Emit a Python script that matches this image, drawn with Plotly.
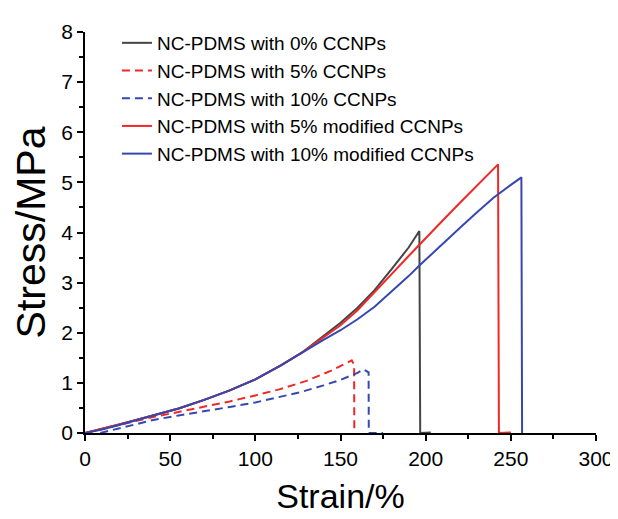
import plotly.graph_objects as go

# ---- data ----
names = ["NC-PDMS with 0% CCNPs", "NC-PDMS with 5% CCNPs", "NC-PDMS with 10% CCNPs",
         "NC-PDMS with 5% modified CCNPs", "NC-PDMS with 10% modified CCNPs"]

strain_0 = [0, 10, 20, 30, 40, 55, 70, 85, 100, 115, 128, 140, 150, 160, 170, 180, 190, 196.3, 196.8, 203]
stress_0 = [0, 0.08, 0.17, 0.26, 0.35, 0.49, 0.66, 0.85, 1.07, 1.35, 1.62, 1.93, 2.2, 2.5, 2.85, 3.27, 3.7, 4.03, 0, 0.01]

strain_5 = [0, 10, 20, 30, 40, 55, 70, 85, 100, 114, 130, 145, 156.6, 158, 158.1]
stress_5 = [0, 0.08, 0.17, 0.25, 0.32, 0.42, 0.52, 0.63, 0.75, 0.87, 1.04, 1.25, 1.45, 1.36, 0]

strain_10 = [9, 15, 25, 40, 55, 70, 85, 100, 114, 126, 140, 150, 160, 163.5, 166.5, 166.6, 171, 175]
stress_10 = [0, 0.05, 0.14, 0.26, 0.35, 0.43, 0.52, 0.61, 0.71, 0.81, 0.95, 1.06, 1.2, 1.27, 1.21, 0, 0, 0]

strain_5m = [0, 10, 20, 30, 40, 55, 70, 85, 100, 115, 128, 140, 150, 160, 170, 180, 190, 196.3, 210, 220, 230, 242.5, 243, 250]
stress_5m = [0, 0.08, 0.17, 0.26, 0.35, 0.49, 0.66, 0.85, 1.07, 1.35, 1.62, 1.9, 2.15, 2.45, 2.8, 3.17, 3.53, 3.76, 4.24, 4.59, 4.93, 5.36, 0, 0.01]

strain_10m = [0, 10, 20, 30, 40, 55, 70, 85, 100, 115, 128, 140, 150, 160, 170, 180, 190, 196, 210, 220, 230, 240, 250, 256.2, 256.6]
stress_10m = [0, 0.07, 0.16, 0.26, 0.35, 0.49, 0.66, 0.85, 1.07, 1.35, 1.62, 1.86, 2.05, 2.27, 2.52, 2.82, 3.13, 3.33, 3.78, 4.09, 4.4, 4.7, 4.95, 5.1, 0]

x_ticks = [0, 50, 100, 150, 200, 250, 300]
y_ticks = [0, 1, 2, 3, 4, 5, 6, 7, 8]

BLACK = "#444444"
RED = "#f02828"
BLUE = "#3548b0"
FONT = "Liberation Sans, Arial"

fig = go.Figure()
series = [
    (strain_0, stress_0, BLACK, "solid"),
    (strain_5, stress_5, RED, "8px,5px"),
    (strain_10, stress_10, BLUE, "8px,5px"),
    (strain_5m, stress_5m, RED, "solid"),
    (strain_10m, stress_10m, BLUE, "solid"),
]
for name, (x, y, c, d) in zip(names, series):
    fig.add_trace(go.Scatter(x=x, y=y, mode="lines", name=name,
                             line=dict(color=c, width=2, dash=d)))

axis_common = dict(
    showline=True, linecolor="black", linewidth=1.5,
    ticks="outside", ticklen=6, tickwidth=1.5, tickcolor="black",
    showgrid=False, zeroline=False, mirror=False,
    tickfont=dict(family=FONT, size=21, color="black"),
)

fig.update_xaxes(range=[0, 300], tickvals=x_ticks,
                 minor=dict(dtick=25, ticks="outside", ticklen=4, tickwidth=1.5, tickcolor="black"),
                 title=dict(text="Strain/%", font=dict(family=FONT, size=34, color="black"),
                            standoff=15),
                 **axis_common)
fig.update_yaxes(range=[0, 8], tickvals=y_ticks,
                 minor=dict(dtick=0.5, ticks="outside", ticklen=4, tickwidth=1.5, tickcolor="black"),
                 title=dict(text="Stress/MPa", font=dict(family=FONT, size=41, color="black"),
                            standoff=12),
                 **axis_common)

fig.update_layout(
    width=618, height=519,
    margin=dict(l=77, r=29, t=16, b=94),
    plot_bgcolor="white", paper_bgcolor="white",
    legend=dict(x=0.0625, y=1.02, xanchor="left", yanchor="top",
                bgcolor="rgba(0,0,0,0)", tracegroupgap=0,
                font=dict(family=FONT, size=19, color="black")),
)

fig.write_html("out.html")
